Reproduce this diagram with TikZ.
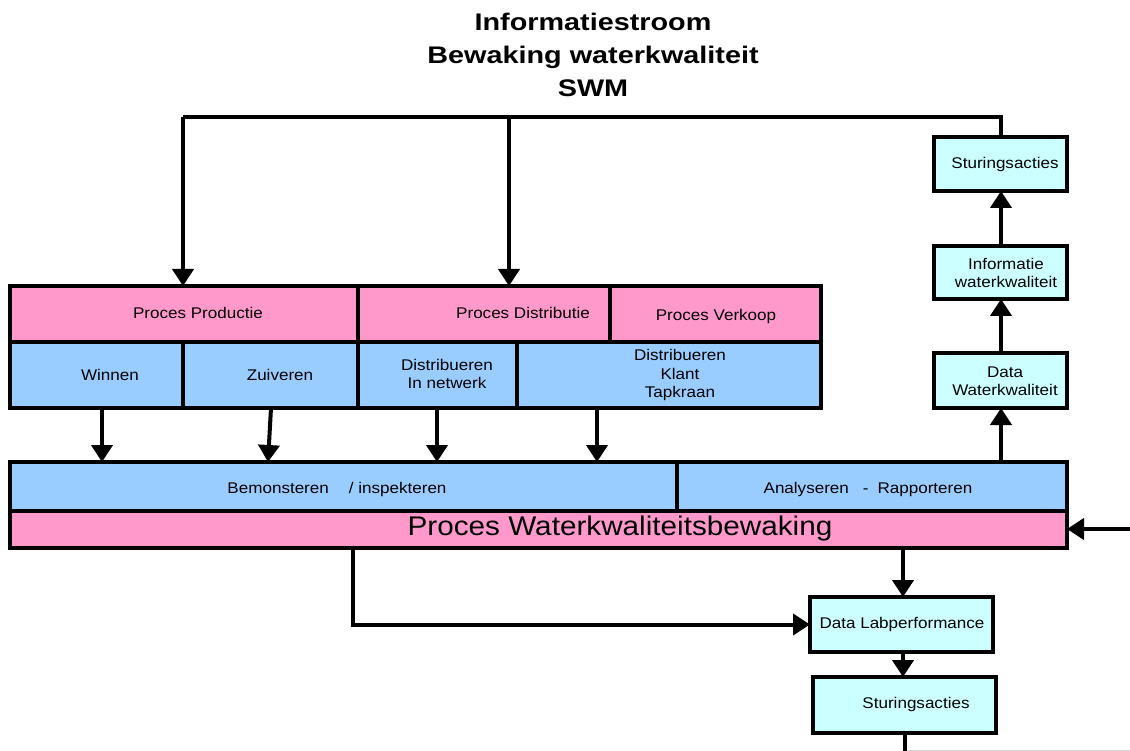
\documentclass[tikz,border=0pt]{standalone}
\usepackage{fontspec}
\setmainfont[FakeStretch=1.1]{Liberation Sans}
\newfontfamily\titlefont[FakeStretch=1.2]{Liberation Sans}
\usetikzlibrary{arrows.meta,fit}

\definecolor{procpink}{HTML}{FF99CC}
\definecolor{stepblue}{HTML}{99CCFF}
\definecolor{infocyan}{HTML}{CCFFFF}

\tikzset{
  cell/.style={draw=black, line width=3.5pt, inner sep=0pt, outer sep=0pt},
  pinkcell/.style={cell, fill=procpink},
  bluecell/.style={cell, fill=stepblue},
  cyancell/.style={cell, fill=infocyan},
  txt/.style={inner sep=0pt, align=center, font=\fontsize{15.5}{18.5}\selectfont},
  ln/.style={line width=4pt, draw=black},
  arr/.style={ln, -{Triangle[width=21pt,length=17pt]}},
}

\begin{document}
\begin{tikzpicture}[x=1pt, y=-1pt]
\useasboundingbox (0,0) rectangle (1130,751);

% title
\node[font=\titlefont\bfseries\fontsize{24}{33}\selectfont, align=center, inner sep=0pt]
  (title) at (593,55) {Informatiestroom\\Bewaking waterkwaliteit\\SWM};

% upper block: processes and their steps
\node[pinkcell, fit={(10,286) (358,342)}] (prod) {};
\node[pinkcell, fit={(358,286) (610,342)}] (distr) {};
\node[pinkcell, fit={(610,286) (821,342)}] (verk) {};
\node[bluecell, fit={(10,342) (183,408)}] (winnen) {};
\node[bluecell, fit={(183,342) (358,408)}] (zuiv) {};
\node[bluecell, fit={(358,342) (517,408)}] (dnet) {};
\node[bluecell, fit={(517,342) (821,408)}] (dklant) {};

\node[txt] (tprod) at (198,313) {Proces Productie};
\node[txt] (tdistr) at (523,313) {Proces Distributie};
\node[txt] (tverk) at (716,316) {Proces Verkoop};
\node[txt] (twin) at (110,375) {Winnen};
\node[txt] (tzuiv) at (280,375) {Zuiveren};
\node[txt] (tdnet) at (447,374) {Distribueren\\In netwerk};
\node[txt] (tdkl) at (680,375) {Distribueren\\Klant\\Tapkraan};

% lower block: quality monitoring
\node[bluecell, fit={(10,462) (677,511)}] (bemon) {};
\node[bluecell, fit={(677,462) (1067,511)}] (analy) {};
\node[pinkcell, fit={(10,511) (1067,548)}] (pwk) {};

\node[txt] (tbemon) at (337,489) {Bemonsteren\hspace{20pt}/ inspekteren};
\node[txt] (tanaly) at (868,489) {Analyseren\hspace{14pt}-\hspace{9pt}Rapporteren};
\node[inner sep=0pt, font=\fontsize{27}{30}\selectfont] (tpwk) at (620,529) {Proces Waterkwaliteitsbewaking};

% right column: information chain
\node[cyancell, fit={(934,137) (1067,191)}] (stur1) {};
\node[cyancell, fit={(934,246) (1067,299)}] (info) {};
\node[cyancell, fit={(934,353) (1067,408)}] (datawk) {};
\node[txt] (tstur1) at (1005,164) {Sturingsacties};
\node[txt] (tinfo) at (1006,273) {Informatie\\waterkwaliteit};
\node[txt] (tdatawk) at (1005,381) {Data\\Waterkwaliteit};

% bottom chain: lab performance
\node[cyancell, fit={(810,597) (993,652)}] (datalab) {};
\node[cyancell, fit={(813,677) (996,733)}] (stur2) {};
\node[txt] (tdatalab) at (902,624) {Data Labperformance};
\node[txt] (tstur2) at (916,704) {Sturingsacties};

% helper coordinates for connector columns
\coordinate (topL) at (183,117);
\coordinate (topM) at (509,117);
\coordinate (cR) at (1001,0);
\coordinate (c1) at (102,0);
\coordinate (c2a) at (271,0);
\coordinate (c2b) at (268,0);
\coordinate (c3) at (437,0);
\coordinate (c4) at (597,0);
\coordinate (cLab) at (903,0);
\coordinate (cLoop) at (353,0);
\coordinate (cOut) at (905,0);
\coordinate (inR) at (1130,529);
\coordinate (outB) at (905,751);

% feedback from the top Sturingsacties to the processes
\draw[ln] (stur1.north -| cR) |- (topL);
\draw[arr] (topL) -- (prod.north -| topL);
\draw[arr] (topM) -- (distr.north -| topM);

% steps feed sampling
\draw[arr] (winnen.south -| c1) -- (bemon.north -| c1);
\draw[arr] (zuiv.south -| c2a) -- (bemon.north -| c2b);
\draw[arr] (dnet.south -| c3) -- (bemon.north -| c3);
\draw[arr] (dklant.south -| c4) -- (bemon.north -| c4);

% information chain upwards
\draw[arr] (analy.north -| cR) -- (datawk.south -| cR);
\draw[arr] (datawk.north -| cR) -- (info.south -| cR);
\draw[arr] (info.north -| cR) -- (stur1.south -| cR);

% external input
\draw[arr] (inR) -- (pwk.east |- inR);

% lab performance chain
\draw[arr] (pwk.south -| cLab) -- (datalab.north -| cLab);
\draw[arr] (pwk.south -| cLoop) |- (datalab.west);
\draw[arr] (datalab.south -| cLab) -- (stur2.north -| cLab);
\draw[ln] (stur2.south -| cOut) -- (outB);
\draw[black!18, line width=1pt] (908,750.5) -- (1130,750.5);
\end{tikzpicture}
\end{document}
